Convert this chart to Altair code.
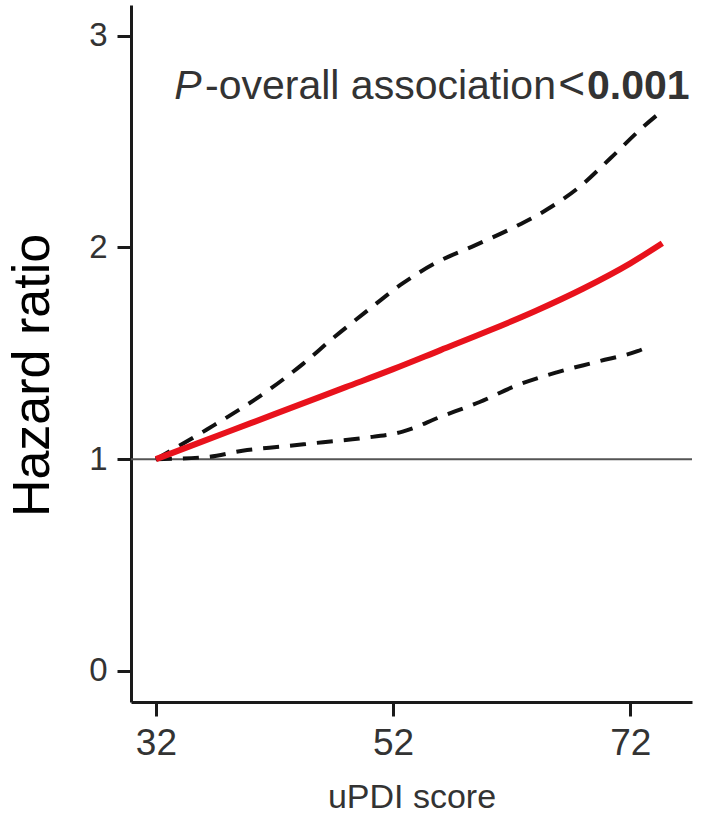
import altair as alt
import pandas as pd

# ---- data ----
x_ticks = [32, 52, 72]
y_ticks = [0, 1, 2, 3]

hr_x = [32, 36, 40, 44, 48, 52, 56, 60, 64, 68, 72, 74.7]
hr_y = [1.00, 1.085, 1.17, 1.255, 1.34, 1.425, 1.515, 1.605, 1.70, 1.805, 1.925, 2.02]

upper_x = [32, 36.3, 41.6, 44.4, 46.9, 49.8, 52.8, 55.7, 58.9, 62.0, 65.0, 67.8, 70.3, 73.1, 74.8]
upper_y = [1.0, 1.14, 1.33, 1.45, 1.57, 1.70, 1.83, 1.93, 2.01, 2.09, 2.18, 2.29, 2.42, 2.57, 2.65]

lower_x = [32, 36.3, 39.3, 42.7, 46.1, 49.5, 52.8, 56.0, 59.3, 62.5, 65.8, 69.2, 72.6, 73.5]
lower_y = [1.0, 1.01, 1.04, 1.06, 1.08, 1.10, 1.13, 1.20, 1.27, 1.35, 1.41, 1.46, 1.51, 1.53]

ref_value = [1]

ann_texts = ["P", "-overall association", "<", "0.001"]
ann_x = [33.55, 65.73, 65.92, 68.35]
ann_y = 2.70

x_domain = [29.9, 77.2]
y_domain = [-0.147, 3.145]

FONT = "Liberation Sans"

xscale = alt.Scale(domain=x_domain, nice=False, zero=False)
yscale = alt.Scale(domain=y_domain, nice=False, zero=False)

x_axis = alt.Axis(
    title="uPDI score", values=x_ticks, grid=False,
    domainColor="#1a1a1a", domainWidth=3,
    tickColor="#1a1a1a", tickWidth=3, tickSize=14,
    labelFontSize=37, labelColor="#333333", labelFont=FONT,
    labelPadding=9, labelBaseline="top",
    titleFontSize=34, titleColor="#333333", titleFont=FONT,
    titleFontWeight="normal", titleY=105, titleBaseline="alphabetic",
)
y_axis = alt.Axis(
    title="Hazard ratio", values=y_ticks, grid=False,
    domainColor="#1a1a1a", domainWidth=3,
    tickColor="#1a1a1a", tickWidth=3, tickSize=14,
    labelFontSize=33, labelColor="#333333", labelFont=FONT,
    labelPadding=10,
    titleFontSize=52, titleColor="#000000", titleFont=FONT,
    titleFontWeight="normal", titleAngle=270, titleX=-83, titleY=370,
    titleAlign="center", titleBaseline="alphabetic",
)


def xe(field="x"):
    return alt.X(f"{field}:Q", scale=xscale, axis=x_axis)


def ye(field="y"):
    return alt.Y(f"{field}:Q", scale=yscale, axis=y_axis)


hr_df = pd.DataFrame({"x": hr_x, "y": hr_y})
up_df = pd.DataFrame({"x": upper_x, "y": upper_y})
lo_df = pd.DataFrame({"x": lower_x, "y": lower_y})
ref_df = pd.DataFrame({"y": ref_value})

ref = alt.Chart(ref_df).mark_rule(color="#555555", strokeWidth=2).encode(
    y=ye(),
)

upper = alt.Chart(up_df).mark_line(
    color="#111111", strokeWidth=4, strokeDash=[16, 11], interpolate="monotone"
).encode(x=xe(), y=ye())

lower = alt.Chart(lo_df).mark_line(
    color="#111111", strokeWidth=4, strokeDash=[16, 11], interpolate="monotone"
).encode(x=xe(), y=ye())

red = alt.Chart(hr_df).mark_line(
    color="#e8121c", strokeWidth=6, interpolate="monotone"
).encode(x=xe(), y=ye())


def ann(i, align, size=41, **kw):
    df = pd.DataFrame({"x": [ann_x[i]], "y": [ann_y], "t": [ann_texts[i]]})
    return alt.Chart(df).mark_text(
        font=FONT, fontSize=size, color="#333333",
        align=align, baseline="alphabetic", **kw,
    ).encode(x=xe(), y=ye(), text="t:N")


t1 = ann(0, "left", fontStyle="italic")
t2 = ann(1, "right")
t3 = ann(2, "left", size=46)
t4 = ann(3, "left", fontWeight="bold")

chart = (
    alt.layer(ref, upper, lower, red, t1, t2, t3, t4)
    .properties(
        width=561, height=697,
        autosize=alt.AutoSizeParams(type="none"),
        padding={"left": 131, "top": 5, "right": 13, "bottom": 114},
        background="white",
    )
    .configure_view(stroke=None)
)

chart.save("out.html", embed_options={"renderer": "svg", "actions": False})
